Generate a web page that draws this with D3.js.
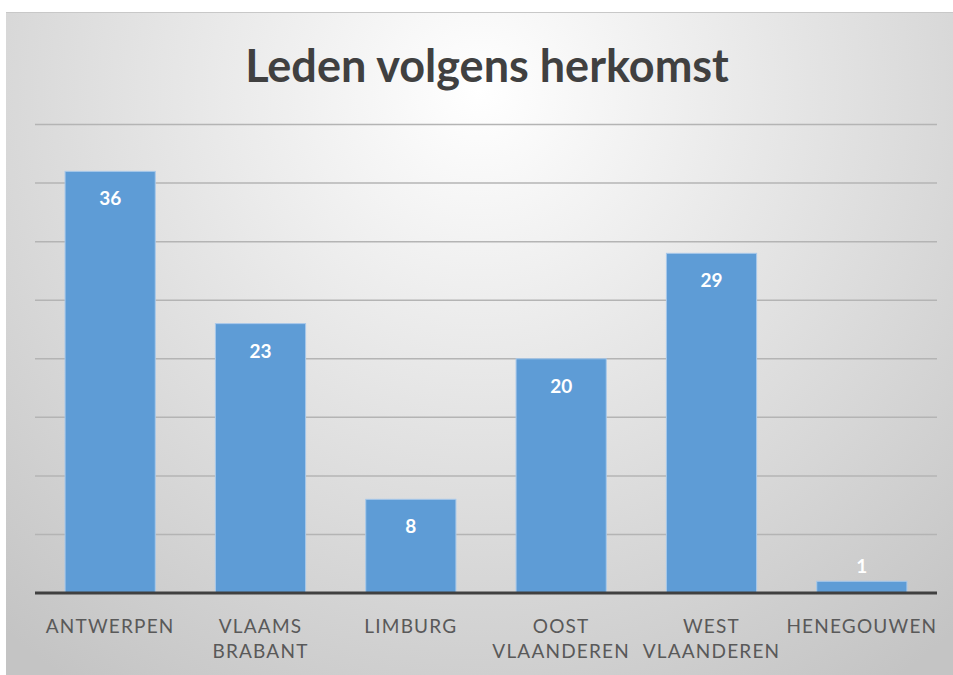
<!DOCTYPE html>
<html>
<head>
<meta charset="utf-8">
<script src="https://cdn.jsdelivr.net/npm/d3@7"></script>
<style>
  body { margin: 0; background: #fff; }
  svg { display: block; }
</style>
</head>
<body>
<script>
  // data
  var provinces = [["ANTWERPEN"], ["VLAAMS", "BRABANT"], ["LIMBURG"], ["OOST", "VLAANDEREN"], ["WEST", "VLAANDEREN"], ["HENEGOUWEN"]];
  var members = [36, 23, 8, 20, 29, 1];
  var gridTicks = [0, 5, 10, 15, 20, 25, 30, 35, 40];
  var title = "Leden volgens herkomst";

  var width = 953, height = 675;
  var plotLeft = 35, plotRight = 937, plotTop = 124.5, plotBottom = 593;

  var svg = d3.select("body").append("svg")
    .attr("width", width)
    .attr("height", height);

  var defs = svg.append("defs");
  var grad = defs.append("radialGradient")
    .attr("id", "bg")
    .attr("gradientUnits", "userSpaceOnUse")
    .attr("cx", 480).attr("cy", 90).attr("r", 720);
  grad.append("stop").attr("offset", "0%").attr("stop-color", "#ffffff");
  grad.append("stop").attr("offset", "100%").attr("stop-color", "#c4c4c4");

  svg.append("rect")
    .attr("x", 6).attr("y", 12)
    .attr("width", width - 6).attr("height", height - 12)
    .attr("fill", "url(#bg)");
  svg.append("line")
    .attr("x1", 6).attr("x2", width).attr("y1", 12.5).attr("y2", 12.5)
    .attr("stroke", "#c8c8c8");

  var x = d3.scaleBand()
    .domain(d3.range(provinces.length))
    .range([plotLeft, plotRight])
    .paddingInner(0.4)
    .paddingOuter(0.2);

  var y = d3.scaleLinear()
    .domain([0, 40])
    .range([plotBottom, plotTop]);

  // gridlines
  svg.append("g")
    .selectAll("line")
    .data(gridTicks.slice(1))
    .enter()
    .append("line")
    .attr("x1", plotLeft).attr("x2", plotRight)
    .attr("y1", function(d){ return y(d); })
    .attr("y2", function(d){ return y(d); })
    .attr("stroke", "#b4b4b4")
    .attr("stroke-width", 1.5);

  // bars
  svg.append("g")
    .selectAll("rect")
    .data(members)
    .enter()
    .append("rect")
    .attr("x", function(d,i){ return x(i); })
    .attr("y", function(d){ return y(d); })
    .attr("width", x.bandwidth())
    .attr("height", function(d){ return plotBottom - y(d); })
    .attr("fill", "#5e9cd6")
    .attr("stroke", "#a9c9ea")
    .attr("stroke-width", 1);

  // baseline
  svg.append("line")
    .attr("x1", plotLeft).attr("x2", plotRight)
    .attr("y1", plotBottom).attr("y2", plotBottom)
    .attr("stroke", "#404040")
    .attr("stroke-width", 3);

  // value labels
  svg.append("g")
    .selectAll("text")
    .data(members)
    .enter()
    .append("text")
    .attr("x", function(d,i){ return x(i) + x.bandwidth() / 2; })
    .attr("y", function(d){ return d < 3 ? y(d) - 8 : y(d) + 34; })
    .attr("text-anchor", "middle")
    .attr("font-family", "Lato, 'Open Sans', sans-serif")
    .attr("font-weight", "bold")
    .attr("font-size", 19)
    .attr("fill", "#ffffff")
    .text(function(d){ return d; });

  // category labels
  var cat = svg.append("g")
    .selectAll("text")
    .data(provinces)
    .enter()
    .append("text")
    .attr("x", function(d,i){ return x(i) + x.bandwidth() / 2; })
    .attr("y", 633)
    .attr("text-anchor", "middle")
    .attr("font-family", "Lato, 'Open Sans', sans-serif")
    .attr("font-size", 19)
    .attr("letter-spacing", 1.2)
    .attr("fill", "#595959");
  cat.selectAll("tspan")
    .data(function(d){ return d; })
    .enter()
    .append("tspan")
    .attr("x", function(){ return this.parentNode.getAttribute("x"); })
    .attr("dy", function(d,i){ return i === 0 ? 0 : 25; })
    .text(function(d){ return d; });

  // title
  svg.append("text")
    .attr("x", 487)
    .attr("y", 82)
    .attr("text-anchor", "middle")
    .attr("font-family", "Lato, 'Open Sans', sans-serif")
    .attr("font-weight", "bold")
    .attr("font-size", 45)
    .attr("fill", "#404040")
    .text(title);
</script>
</body>
</html>
